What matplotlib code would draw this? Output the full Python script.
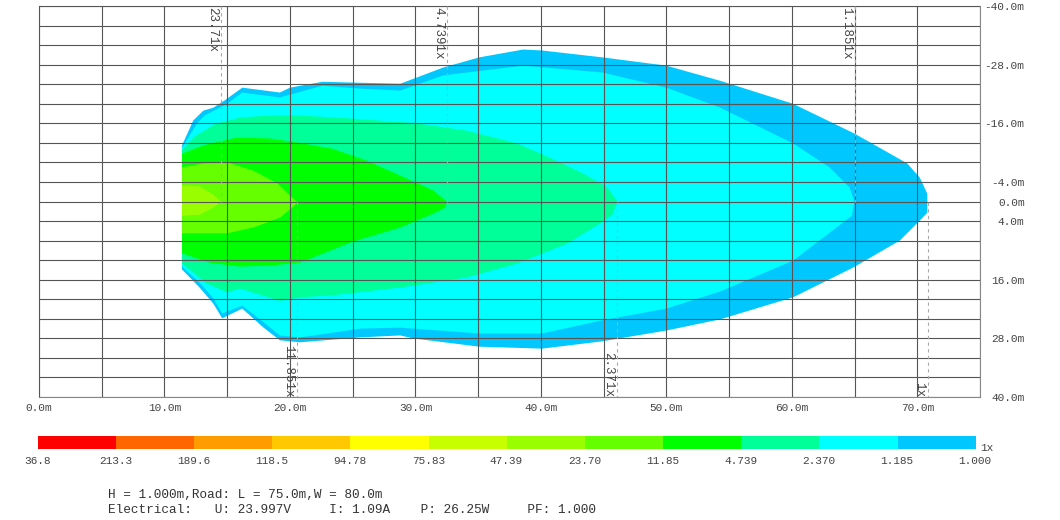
import numpy as np
import matplotlib
matplotlib.use('Agg')
from matplotlib import pyplot as plt
from matplotlib.colors import ListedColormap

plt.rcParams['font.family'] = ['Liberation Mono', 'DejaVu Sans Mono']

# iso-illuminance outlines (x = distance along road, y = lateral offset, metres)
# each level: top edge left->right, bottom edge right->left
lvl1_top_x = [11.4, 12.3, 13.1, 13.9, 14.8, 16.2, 19.2, 20.0, 22.6, 25.6, 28.8, 32.2, 35.1, 38.6, 40.1, 44.9, 50.0, 54.3, 60.1, 65.0, 69.2, 70.2, 70.8, 70.8]
lvl1_top_y = [-11.5, -16.6, -18.6, -19.2, -20.7, -23.3, -22.3, -23.3, -24.5, -24.3, -24.1, -27.4, -29.5, -31.1, -30.9, -29.5, -27.8, -24.7, -20.0, -13.9, -7.8, -4.9, -1.6, 0.4]
lvl1_bot_x = [70.8, 70.2, 68.6, 64.9, 60.1, 54.3, 50.0, 44.9, 40.1, 35.1, 29.8, 28.8, 25.6, 20.8, 19.2, 17.9, 16.2, 14.6, 13.9, 12.8, 11.4]
lvl1_bot_y = [2.3, 3.9, 8.0, 13.5, 19.6, 24.1, 26.4, 28.6, 30.1, 29.7, 28.0, 27.4, 27.8, 28.8, 28.4, 25.8, 21.9, 23.9, 20.9, 17.6, 13.9]

lvl2_top_x = [11.4, 12.6, 13.2, 15.0, 16.2, 19.2, 22.6, 25.6, 28.8, 32.2, 38.6, 44.9, 50.0, 54.3, 60.1, 63.0, 64.6, 65.0]
lvl2_top_y = [-11.0, -16.0, -17.6, -20.0, -22.3, -21.3, -23.7, -23.1, -22.7, -25.8, -27.8, -26.4, -23.3, -19.2, -11.9, -7.0, -2.9, 0.0]
lvl2_bot_x = [64.8, 60.1, 54.3, 50.0, 44.9, 40.1, 35.1, 29.8, 28.8, 25.6, 20.8, 19.2, 17.9, 16.2, 14.6, 13.9, 12.8, 11.4]
lvl2_bot_y = [2.9, 12.1, 18.4, 21.9, 24.3, 27.0, 27.0, 26.0, 25.8, 26.0, 27.8, 27.4, 24.7, 21.3, 22.9, 19.8, 16.6, 13.3]

lvl3_top_x = [11.4, 12.4, 14.0, 16.0, 18.4, 20.8, 24.8, 30.1, 34.1, 38.1, 40.7, 43.4, 45.3, 46.1]
lvl3_top_y = [-10.6, -13.3, -15.8, -17.2, -17.6, -17.6, -17.0, -16.0, -14.5, -11.9, -9.0, -5.7, -2.9, 0.0]
lvl3_bot_x = [45.7, 44.7, 42.1, 38.1, 34.1, 28.8, 23.4, 20.8, 19.2, 16.0, 15.0, 13.4, 11.4]
lvl3_bot_y = [2.7, 4.5, 8.6, 12.7, 15.5, 17.6, 19.2, 19.6, 20.3, 17.8, 18.6, 16.8, 12.7]

lvl4_top_x = [11.4, 13.1, 15.8, 18.4, 21.0, 23.4, 26.1, 28.8, 31.4, 32.5]
lvl4_top_y = [-9.8, -11.5, -13.1, -12.9, -11.9, -10.8, -8.4, -5.3, -2.3, 0.0]
lvl4_bot_x = [32.4, 31.4, 28.8, 25.0, 20.8, 18.4, 16.0, 13.6, 11.4]
lvl4_bot_y = [1.2, 2.5, 5.3, 8.2, 12.5, 13.1, 13.3, 12.5, 10.6]

lvl5_top_x = [11.4, 13.1, 15.0, 17.1, 19.0, 20.0, 20.6]
lvl5_top_y = [-7.0, -7.8, -8.0, -6.3, -3.7, -1.2, 0.2]
lvl5_bot_x = [20.2, 19.2, 17.1, 15.0, 11.4]
lvl5_bot_y = [1.2, 3.3, 5.3, 6.5, 6.5]

lvl6_top_x = [11.4, 12.8, 13.9, 14.5]
lvl6_top_y = [-3.3, -3.1, -1.4, 0.0]
lvl6_bot_x = [13.9, 12.8, 11.4]
lvl6_bot_y = [1.2, 2.7, 2.9]

level_colors = ['#00C8FF', '#00FFFF', '#00FF99', '#00FF00', '#66FF00', '#99FF00']

# guide lines marking the reach of each level
guide_x = [14.5, 20.55, 32.55, 46.05, 65.0, 70.85]
guide_text = ['23.71x', '11.851x', '4.7391x', '2.371x', '1.1851x', '1x']
guide_side = ['top', 'bottom', 'top', 'bottom', 'top', 'bottom']

x_ticks = [0, 10, 20, 30, 40, 50, 60, 70]
x_labels = ['0.0m', '10.0m', '20.0m', '30.0m', '40.0m', '50.0m', '60.0m', '70.0m']
y_ticks = [-40, -28, -16, -4, 0, 4, 16, 28, 40]
y_labels = ['-40.0m', '-28.0m', '-16.0m', '-4.0m', '0.0m', '4.0m', '16.0m', '28.0m', '40.0m']

bar_colors = ['#FF0000', '#FF6600', '#FF9C00', '#FFC800', '#FFFF00', '#C8FF00',
              '#99FF00', '#66FF00', '#00FF00', '#00FF99', '#00FFFF', '#00C8FF']
bar_labels = ['36.8', '213.3', '189.6', '118.5', '94.78', '75.83', '47.39',
              '23.70', '11.85', '4.739', '2.370', '1.185', '1.000']

info1 = 'H = 1.000m,Road: L = 75.0m,W = 80.0m'
info2 = 'Electrical:   U: 23.997V     I: 1.09A    P: 26.25W     PF: 1.000'

fig = plt.figure(figsize=(10.6, 5.2), dpi=100)
ax = fig.add_axes([0.0368, 0.2365, 0.8877, 0.7519])

levels = [
    (lvl1_top_x, lvl1_top_y, lvl1_bot_x, lvl1_bot_y),
    (lvl2_top_x, lvl2_top_y, lvl2_bot_x, lvl2_bot_y),
    (lvl3_top_x, lvl3_top_y, lvl3_bot_x, lvl3_bot_y),
    (lvl4_top_x, lvl4_top_y, lvl4_bot_x, lvl4_bot_y),
    (lvl5_top_x, lvl5_top_y, lvl5_bot_x, lvl5_bot_y),
    (lvl6_top_x, lvl6_top_y, lvl6_bot_x, lvl6_bot_y),
]
for (tx, ty, bx, by), c in zip(levels, level_colors):
    ax.fill(tx + bx, ty + by, color=c, lw=0, zorder=1)

ax.set_xlim(0, 75)
ax.set_ylim(40, -40)
ax.set_xticks(x_ticks)
ax.set_xticklabels(x_labels)
ax.set_xticks(np.arange(0, 76, 5), minor=True)
ax.set_yticks(y_ticks)
ax.set_yticklabels(y_labels)
ax.set_yticks(np.arange(-40, 41, 4), minor=True)
ax.yaxis.tick_right()
ax.tick_params(which='both', length=0, labelsize=8, labelcolor='#444444')
ax.tick_params(axis='x', pad=4)
ax.tick_params(axis='y', pad=32)
for lbl in ax.get_yticklabels():
    lbl.set_horizontalalignment('right')
ax.grid(which='both', color='#555555', lw=0.8, zorder=2)
ax.set_axisbelow(False)
for s in ax.spines.values():
    s.set_color('#888888')
    s.set_linewidth(0.8)

for gx, gt, side in zip(guide_x, guide_text, guide_side):
    if side == 'top':
        ax.plot([gx, gx], [-40, 0], ls=(0, (3, 3)), color='#aaaaaa', lw=0.8, zorder=3)
        ax.annotate(gt, (gx, -40), xytext=(-2, -1), textcoords='offset points',
                    rotation=270, ha='right', va='top', fontsize=9, color='#444444')
    else:
        ax.plot([gx, gx], [0, 40], ls=(0, (3, 3)), color='#aaaaaa', lw=0.8, zorder=3)
        ax.annotate(gt, (gx, 40), xytext=(-2, 0), textcoords='offset points',
                    rotation=270, ha='right', va='bottom', fontsize=9, color='#444444')

# colour scale
cax = fig.add_axes([0.0358, 0.1365, 0.884, 0.025])
cax.imshow(np.arange(len(bar_colors))[None, :], cmap=ListedColormap(bar_colors),
           aspect='auto', extent=[0, len(bar_colors), 0, 1])
cax.set_xticks(np.arange(len(bar_labels)))
cax.set_xticklabels(bar_labels)
cax.set_yticks([])
cax.tick_params(length=0, labelsize=8, labelcolor='#444444', pad=5)
for s in cax.spines.values():
    s.set_visible(False)
fig.text(0.9245, 0.138, '1x', fontsize=8, color='#444444', ha='left', va='center')

fig.text(0.102, 0.048, info1, fontsize=9.2, color='#333333', va='center')
fig.text(0.102, 0.019, info2, fontsize=9.2, color='#333333', va='center')

fig.savefig('out.png', dpi=100)
